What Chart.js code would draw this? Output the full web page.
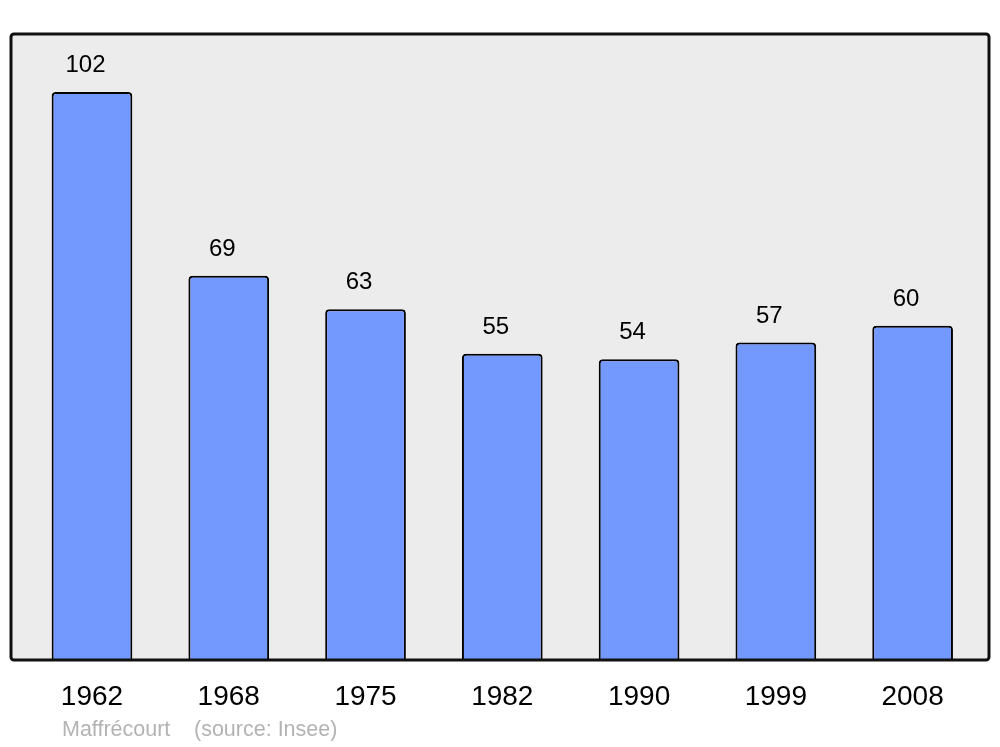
<!DOCTYPE html>
<html>
<head>
<meta charset="utf-8">
<script src="https://cdn.jsdelivr.net/npm/chart.js@4"></script>
<style>
  html, body { margin: 0; padding: 0; background: #fff; }
  #wrap { width: 1000px; height: 747px; position: relative; }
</style>
</head>
<body>
<div id="wrap"><canvas id="chart"></canvas></div>
<script>
const years = ['1962', '1968', '1975', '1982', '1990', '1999', '2008'];
const population = [102, 69, 63, 55, 54, 57, 60];
const footerName = 'Maffrécourt';
const footerSource = '(source: Insee)';

// grey frame behind the plot
const framePlugin = {
  id: 'frame',
  beforeDatasetsDraw(chart) {
    const ctx = chart.ctx;
    ctx.save();
    ctx.beginPath();
    ctx.roundRect(11, 34, 978, 626, 3);
    ctx.fillStyle = '#ececec';
    ctx.fill();
    ctx.restore();
  },
  afterDatasetsDraw(chart) {
    const ctx = chart.ctx;
    ctx.save();
    ctx.beginPath();
    ctx.roundRect(11, 34, 978, 626, 3);
    ctx.lineWidth = 3;
    ctx.strokeStyle = '#111';
    ctx.stroke();

    // values above the bars
    ctx.font = '24px "Liberation Sans", Arial, sans-serif';
    ctx.fillStyle = '#000';
    ctx.textAlign = 'center';
    ctx.textBaseline = 'middle';
    chart.getDatasetMeta(0).data.forEach((bar, i) => {
      ctx.fillText(String(population[i]), bar.x - 6.5, bar.y - 26.5);
    });

    // footer
    ctx.font = '21.5px "Liberation Sans", Arial, sans-serif';
    ctx.fillStyle = '#b3b3b3';
    ctx.textAlign = 'left';
    ctx.fillText(footerName, 62, 730);
    ctx.fillText(footerSource, 194, 730);
    ctx.restore();
  }
};

new Chart(document.getElementById('chart'), {
  type: 'bar',
  data: {
    labels: years,
    datasets: [{
      data: population,
      backgroundColor: '#7399ff',
      borderColor: '#000',
      borderWidth: 2,
      borderRadius: 4,
      borderSkipped: 'bottom',
      barPercentage: 0.59,
      categoryPercentage: 1
    }]
  },
  options: {
    responsive: true,
    maintainAspectRatio: false,
    animation: false,
    layout: { padding: { left: 23.6, right: 19, top: 34, bottom: 0 } },
    plugins: { legend: { display: false }, tooltip: { enabled: false } },
    scales: {
      x: {
        grid: { display: false, drawTicks: false },
        border: { display: false },
        ticks: {
          color: '#000',
          padding: 20,
          font: { family: '"Liberation Sans", Arial, sans-serif', size: 28 }
        },
        afterFit(scale) { scale.height = 87; }
      },
      y: {
        display: false,
        min: 0,
        max: 112.4
      }
    }
  },
  plugins: [framePlugin]
});
</script>
</body>
</html>
